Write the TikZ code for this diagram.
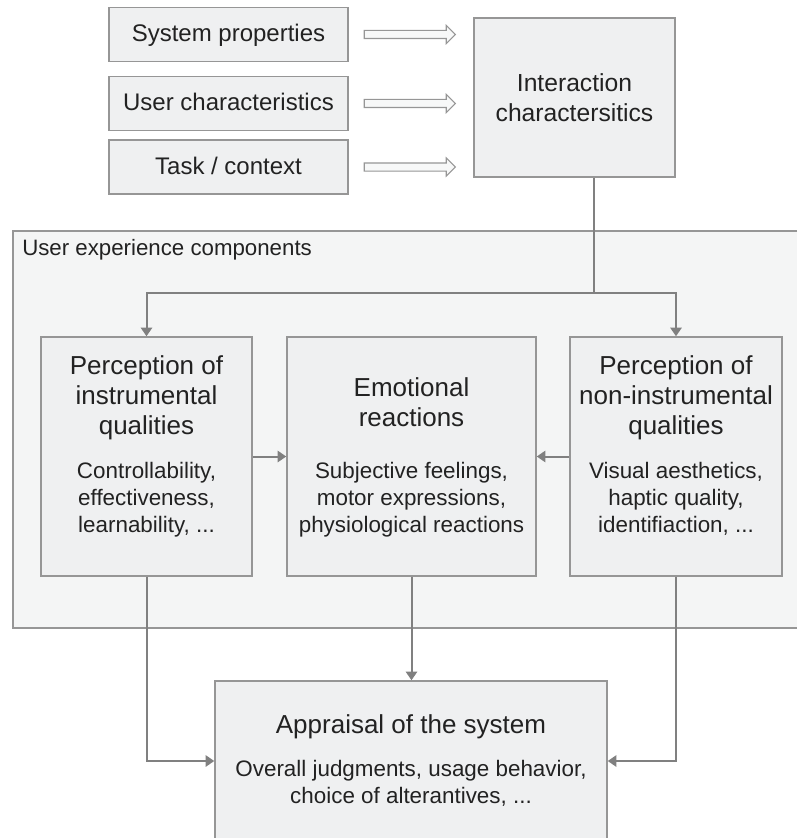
\documentclass[tikz,border=0pt]{standalone}
\usepackage{fontspec}
\setmainfont{Liberation Sans}
\usetikzlibrary{arrows.meta,positioning,shapes.arrows}
\definecolor{boxfill}{RGB}{239,240,241}
\definecolor{uxfill}{RGB}{244,245,245}
\definecolor{edgegray}{RGB}{150,150,150}
\definecolor{linegray}{RGB}{128,128,128}
\definecolor{inkgray}{RGB}{34,34,34}
\begin{document}
\begin{tikzpicture}[x=0.75pt,y=-0.75pt,text=inkgray]
	\tikzstyle{box}=[rectangle,draw=edgegray,fill=boxfill,line width=1.1pt,inner sep=0pt]
	\tikzstyle{inbox}=[box,minimum width=179.25pt,minimum height=40.5pt,font=\fontsize{18pt}{22.5pt}\selectfont,text height=13pt,text depth=2pt] % input boxes
	\tikzstyle{openarr}=[single arrow,draw=edgegray,fill=boxfill!50!white,line width=0.8pt,inner sep=0pt,text height=5.25pt,text depth=0pt,minimum height=68.25pt,single arrow head extend=3.75pt]
	\tikzstyle{title}=[inner sep=0pt,align=center,anchor=north,font=\fontsize{19.5pt}{22.5pt}\selectfont]
	\tikzstyle{sub}=[inner sep=0pt,align=center,anchor=north,font=\fontsize{16.8pt}{20.25pt}\selectfont]
	\tikzstyle{conn}=[draw=linegray,line width=1.5pt,-{Triangle[length=6.5pt,width=8.5pt]}]
	\useasboundingbox (0,0) rectangle (797,838);
	% user experience frame
	\fill[uxfill] (13,231) rectangle (797,628);
	\draw[edgegray,line width=1.1pt] (797,231) -| (13,628) -- (797,628);
	\node(uxlabel)[anchor=base west,inner sep=0pt,font=\fontsize{16.7pt}{20pt}\selectfont] at (22,255) {User experience components};
	% inputs
	\node(sys)[inbox] at (228.5,34.5) {System properties};
	\node(usr)[inbox] at (228.5,103.5) {User characteristics};
	\node(task)[inbox] at (228.5,167) {Task / context};
	\node(sysarr)[openarr,right=11.25pt of sys] {};
	\node(usrarr)[openarr,right=11.25pt of usr] {};
	\node(taskarr)[openarr,right=11.25pt of task] {};
	\node(inter)[box,minimum width=150.75pt,minimum height=119.25pt,align=center,font=\fontsize{18.5pt}{22.5pt}\selectfont] at (574.5,97.5) {Interaction\\charactersitics};
	% components
	\node(perci)[box,minimum width=158.25pt,minimum height=179.25pt] at (146.5,456.5) {};
	\node(emo)[box,minimum width=186.75pt,minimum height=179.25pt] at (411.5,456.5) {};
	\node(percn)[box,minimum width=159pt,minimum height=179.25pt] at (676,456.5) {};
	\node(percititle)[title] at (146.5,355) {Perception of\\instrumental\\qualities};
	\node(emotitle)[title] at (411.5,377) {Emotional\\reactions};
	\node(percntitle)[title] at (676,355) {Perception of\\non-instrumental\\qualities};
	\node(percisub)[sub] at (146.5,462) {Controllability,\\effectiveness,\\learnability, ...};
	\node(emosub)[sub] at (411.5,462) {Subjective feelings,\\motor expressions,\\physiological reactions};
	\node(percnsub)[sub] at (676,462) {Visual aesthetics,\\haptic quality,\\identifiaction, ...};
	% outcome
	\node(appr)[box,minimum width=294pt,minimum height=120pt] at (411,761) {};
	\node(apprtitle)[title] at (411,714) {Appraisal of the system};
	\node(apprsub)[sub] at (411,759.6) {Overall judgments, usage behavior,\\choice of alterantives, ...};
	% connectors
	\coordinate(split) at (594,293);
	\draw[conn,-] (inter.south -| split) -- (split);
	\draw[conn] (split) -| (perci.north);
	\draw[conn] (split) -| (percn.north);
	\draw[conn] (perci.east) -- (emo.west);
	\draw[conn] (percn.west) -- (emo.east);
	\draw[conn] (emo.south) -- (emo.south |- appr.north);
	\draw[conn] (perci.south) |- (appr.west);
	\draw[conn] (percn.south) |- (appr.east);
\end{tikzpicture}
\end{document}
